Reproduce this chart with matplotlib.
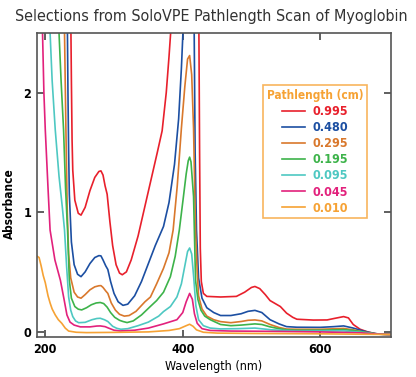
import matplotlib
matplotlib.use('Agg')
import matplotlib.pyplot as plt

plt.rcParams['font.family'] = ['DejaVu Sans']
plt.rcParams['font.stretch'] = 'condensed'

# pathlengths (cm) and colours, one spectrum per pathlength
labels = ['0.995', '0.480', '0.295', '0.195', '0.095', '0.045', '0.010']
colors = ['#e8202c', '#1c4fa2', '#d9782c', '#3db34a', '#4ec8c2', '#e2217c', '#f6a234']

# values (nm, absorbance)
wl_0995 = [236.5, 238, 239, 240, 243, 248, 252, 258, 265, 272, 278, 281, 284, 287, 290,
           294, 298, 303, 308, 312, 318, 325, 335, 345, 355, 363, 370, 376, 380, 383, 386,
           410, 423, 424.5, 425.5, 427, 430, 435, 455, 478, 490, 500, 505, 512, 520, 527,
           542, 551, 560, 566, 590, 610, 620, 634, 641, 648, 658, 668, 682, 703]
ab_0995 = [3.0, 2.1, 1.6, 1.35, 1.1, 0.99, 0.975, 1.04, 1.18, 1.29, 1.34, 1.345, 1.31, 1.22, 1.15,
           0.92, 0.72, 0.56, 0.49, 0.476, 0.5, 0.6, 0.8, 1.05, 1.3, 1.5, 1.68, 2.0, 2.3, 2.55, 3.0,
           5.0, 3.0, 1.5, 0.7, 0.42, 0.32, 0.295, 0.29, 0.295, 0.33, 0.37, 0.378, 0.36, 0.31, 0.26,
           0.21, 0.155, 0.12, 0.104, 0.097, 0.098, 0.11, 0.126, 0.115, 0.06, 0.02, 0.0, -0.02, -0.024]

wl_0480 = [231.5, 233, 234, 235, 238, 242, 247, 252, 258, 265, 272, 278, 281, 284, 288, 291,
           295, 300, 306, 313, 320, 330, 340, 350, 360, 372, 380, 388, 394, 398, 401, 410,
           416.5, 418, 420, 423, 428, 435, 445, 455, 470, 485, 495, 505, 515, 527, 540, 551,
           566, 600, 620, 634, 648, 660, 670, 685, 703]
ab_0480 = [3.0, 2.0, 1.5, 1.15, 0.75, 0.56, 0.48, 0.46, 0.5, 0.57, 0.62, 0.636, 0.634, 0.6, 0.55, 0.52,
           0.42, 0.32, 0.25, 0.22, 0.23, 0.3, 0.42, 0.57, 0.72, 0.88, 1.08, 1.4, 1.78, 2.2, 2.6, 4.5,
           2.6, 1.5, 0.85, 0.45, 0.28, 0.2, 0.16, 0.135, 0.135, 0.15, 0.17, 0.178, 0.16, 0.1, 0.065, 0.042,
           0.037, 0.036, 0.042, 0.048, 0.03, 0.01, -0.005, -0.02, -0.024]

wl_0295 = [226.5, 228, 230, 232, 234, 237, 242, 247, 252, 258, 265, 272, 278, 281, 284, 288,
           291, 296, 302, 308, 315, 322, 332, 345, 353, 362, 372, 380, 386, 392, 398, 403,
           407, 410, 413, 415.7, 418.6, 421, 423, 428, 435, 445, 455, 470, 485, 495, 505, 515,
           527, 540, 551, 566, 600, 620, 634, 648, 660, 672, 685, 703]
ab_0295 = [3.0, 2.5, 1.7, 1.0, 0.65, 0.45, 0.33, 0.29, 0.28, 0.31, 0.35, 0.375, 0.384, 0.385, 0.37, 0.34,
           0.32, 0.24, 0.18, 0.145, 0.13, 0.135, 0.17, 0.25, 0.29, 0.4, 0.53, 0.66, 0.85, 1.22, 1.7, 2.05,
           2.28, 2.31, 2.15, 1.7, 0.85, 0.5, 0.3, 0.19, 0.13, 0.1, 0.084, 0.075, 0.085, 0.095, 0.098, 0.09,
           0.06, 0.035, 0.022, 0.02, 0.02, 0.024, 0.027, 0.015, 0.0, -0.012, -0.02, -0.024]

wl_0195 = [218, 220, 223, 226.6, 229.5, 232.4, 235, 238, 243, 248, 253, 260, 267, 274, 280,
           285, 290, 295, 301, 308, 313, 319, 328, 340, 352.7, 362, 372, 382, 389, 395, 401,
           405, 408, 410, 412, 415.7, 418.6, 422, 426.4, 432, 440, 455, 470, 485, 505, 515,
           527, 540, 551, 566, 600, 634, 648, 660, 680, 703]
ab_0195 = [3.0, 2.5, 2.1, 1.69, 1.2, 0.85, 0.43, 0.28, 0.21, 0.188, 0.182, 0.2, 0.225, 0.24, 0.244,
           0.235, 0.205, 0.16, 0.12, 0.095, 0.085, 0.076, 0.09, 0.14, 0.21, 0.26, 0.33, 0.46, 0.63, 0.85, 1.13,
           1.32, 1.43, 1.46, 1.42, 1.13, 0.43, 0.27, 0.18, 0.13, 0.1, 0.06, 0.05, 0.055, 0.065, 0.06,
           0.04, 0.025, 0.015, 0.012, 0.012, 0.017, 0.01, 0.0, -0.02, -0.024]

wl_0095 = [206, 207, 210, 214.5, 220, 225, 228, 231, 234, 237, 240, 244, 248.5, 258, 268,
           275, 280, 286, 291, 298, 304, 310, 320, 335, 350, 365, 372, 382, 391.5, 398, 403,
           407, 410, 413, 416, 419, 423, 430, 440, 455, 480, 505, 530, 566, 634, 660, 680, 703]
ab_0095 = [3.0, 2.5, 2.1, 1.69, 1.3, 1.03, 0.85, 0.55, 0.29, 0.18, 0.126, 0.09, 0.075, 0.078, 0.1,
           0.11, 0.112, 0.1, 0.085, 0.045, 0.028, 0.02, 0.025, 0.05, 0.08, 0.13, 0.168, 0.21, 0.29, 0.4, 0.55,
           0.67, 0.7, 0.65, 0.45, 0.22, 0.1, 0.05, 0.03, 0.023, 0.025, 0.03, 0.015, 0.005, 0.006, -0.005, -0.02, -0.024]

wl_0045 = [195, 196, 198, 200, 204, 207, 214, 222, 227, 231.5, 236, 242, 251, 265, 275,
           280, 287, 292, 300, 309, 330, 350, 372, 391.5, 400, 405, 410, 414, 417, 421,
           428, 440, 470, 520, 600, 660, 680, 703]
ab_0045 = [3.0, 2.5, 2.0, 1.69, 1.2, 0.85, 0.6, 0.43, 0.28, 0.14, 0.08, 0.055, 0.04, 0.04, 0.047,
           0.048, 0.042, 0.03, 0.012, 0.006, 0.012, 0.03, 0.065, 0.1, 0.16, 0.25, 0.32, 0.27, 0.15, 0.07,
           0.025, 0.01, 0.005, 0.003, -0.002, -0.01, -0.02, -0.024]

wl_0010 = [188.4, 191, 194, 197, 200, 204, 207, 210, 214.5, 219, 224, 229, 234, 245, 260,
           300, 350, 380, 395, 405, 410, 415, 420, 430, 450, 500, 600, 703]
ab_0010 = [0.63, 0.62, 0.55, 0.47, 0.41, 0.3, 0.24, 0.19, 0.14, 0.1, 0.07, 0.03, 0.005, -0.005, -0.008,
           -0.006, -0.002, 0.01, 0.025, 0.05, 0.062, 0.045, 0.015, -0.005, -0.012, -0.015, -0.018, -0.024]

wls = [wl_0995, wl_0480, wl_0295, wl_0195, wl_0095, wl_0045, wl_0010]
abss = [ab_0995, ab_0480, ab_0295, ab_0195, ab_0095, ab_0045, ab_0010]

fig = plt.figure(figsize=(4.16, 3.77), dpi=100)
ax = fig.add_axes([0.089, 0.106, 0.851, 0.807])

for wl, ab, lab, c in zip(wls, abss, labels, colors):
    ax.plot(wl, ab, color=c, lw=1.2, label=lab, solid_joinstyle='round')

ax.set_xlim(188, 703)
ax.set_ylim(-0.045, 2.5)
ax.set_xticks([200, 400, 600])
ax.set_yticks([0, 1, 2])
ax.tick_params(direction='in', length=5, width=1.2, color='#444444',
               top=True, right=True, labelsize=9, pad=4)
for t in ax.get_xticklabels() + ax.get_yticklabels():
    t.set_fontweight('bold')
for s in ax.spines.values():
    s.set_color('#555555')
    s.set_linewidth(1.2)

ax.set_xlabel('Wavelength (nm)', fontsize=9, labelpad=3)
ax.set_ylabel('Absorbance', fontsize=8.5, fontweight='bold')
ax.yaxis.set_label_coords(-0.06, 0.44)
fig.text(0.508, 0.955, 'Selections from SoloVPE Pathlength Scan of Myoglobin',
         ha='center', va='center', fontsize=11.5, color='#333333')

leg = ax.legend(loc='upper left', bbox_to_anchor=(263 / 416, 1 - 85 / 377),
                bbox_transform=fig.transFigure, borderaxespad=0, fancybox=False,
                title='Pathlength (cm)', fontsize=9, handlelength=1.8, handletextpad=0.6,
                labelspacing=0.25, borderpad=0.3)
leg.get_frame().set_edgecolor('#f6a234')
leg.get_frame().set_linewidth(1.2)
leg.get_title().set_color('#f6a234')
leg.get_title().set_fontweight('bold')
leg.get_title().set_fontsize(8.5)
for txt, c in zip(leg.get_texts(), colors):
    txt.set_color(c)
    txt.set_fontweight('bold')

fig.savefig('out.png', dpi=100)
